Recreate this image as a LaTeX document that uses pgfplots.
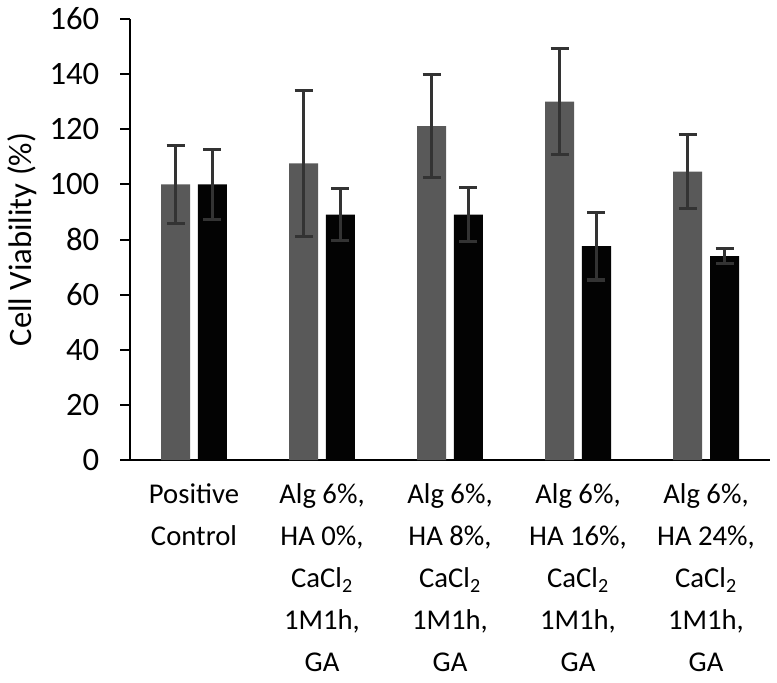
\documentclass[border=0pt]{standalone}
\usepackage{pgfplots}
\pgfplotsset{compat=1.18}
\usepackage{pgfplotstable}
\usepackage{fontspec}
\setmainfont{Carlito}
\definecolor{barA}{HTML}{595959}
\definecolor{barB}{HTML}{030303}
\definecolor{errc}{HTML}{333333}
\pgfplotstableread{
x gray graye black blacke
0 100.0 14.2 100.0 12.7
1 107.6 26.5 89.0 9.5
2 121.1 18.7 89.0 9.8
3 130.0 19.2 77.6 12.3
4 104.6 13.5 74.0 2.6
}\data
\begin{document}
\begin{tikzpicture}
\begin{axis}[
  scale only axis, width=480pt, height=330.75pt,
  xmin=-0.5, xmax=4.5, ymin=0, ymax=160,
  axis x line*=bottom, axis y line*=left,
  axis line style={line width=1.5pt, black},
  ytick={0,20,...,160},
  tick align=outside,
  major tick length=7.5pt,
  ytick style={line width=1.5pt, black},
  xtick={0,1,2,3,4}, xtick style={draw=none},
  xticklabels={{Positive\\Control},
    {Alg 6\%,\\HA 0\%,\\CaCl\textsubscript{2}\\1M1h,\\GA},
    {Alg 6\%,\\HA 8\%,\\CaCl\textsubscript{2}\\1M1h,\\GA},
    {Alg 6\%,\\HA 16\%,\\CaCl\textsubscript{2}\\1M1h,\\GA},
    {Alg 6\%,\\HA 24\%,\\CaCl\textsubscript{2}\\1M1h,\\GA}},
  xticklabel style={align=center, anchor=north, font=\fontsize{21.5}{31.5}\selectfont, yshift=-7pt},
  yticklabel style={font=\fontsize{24.5}{28}\selectfont, xshift=-12pt},
  /pgf/number format/assume math mode=true,
  ylabel={Cell Viability (\%)},
  ylabel style={font=\fontsize{24.5}{28}\selectfont, at={(axis description cs:-0.169,0.5)}, anchor=center},
  clip=false,
]
\addplot[ybar, bar width=21.75pt, bar shift=0pt, fill=barA, draw=none, line width=2.3pt,
  error bars/.cd, y dir=both, y explicit,
  error bar style={line width=2.3pt, draw=errc},
  error mark options={rotate=90, mark size=6.75pt, line width=2.3pt, draw=errc}]
  table[x expr=\thisrow{x}-0.1445, y=gray, y error=graye]{\data};
\addplot[ybar, bar width=21.75pt, bar shift=0pt, fill=barB, draw=none, line width=2.3pt,
  error bars/.cd, y dir=both, y explicit,
  error bar style={line width=2.3pt, draw=errc},
  error mark options={rotate=90, mark size=6.75pt, line width=2.3pt, draw=errc}]
  table[x expr=\thisrow{x}+0.1445, y=black, y error=blacke]{\data};
\end{axis}
\pgfresetboundingbox
\useasboundingbox (-97.5pt,-166.5pt) rectangle (485.25pt,345pt);
\end{tikzpicture}
\end{document}
